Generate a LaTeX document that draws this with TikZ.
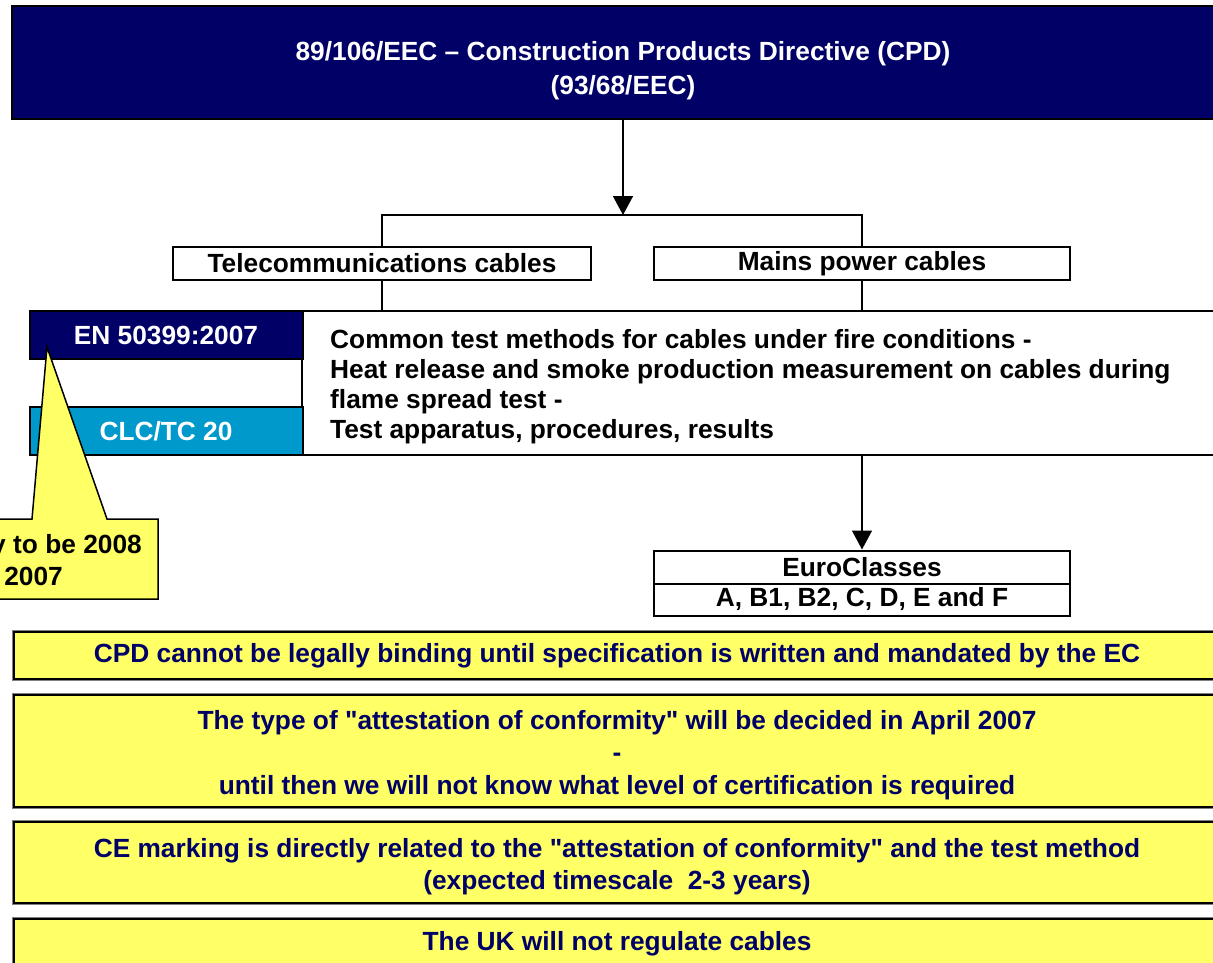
\documentclass[tikz,border=0pt]{standalone}
\usepackage{fontspec}
\setmainfont{Liberation Sans}[Ligatures=TeXOff]
\usetikzlibrary{arrows.meta}
\definecolor{navy}{RGB}{0,0,102}
\definecolor{cpdcyan}{RGB}{0,153,204}
\definecolor{noteyellow}{RGB}{255,255,102}
\begin{document}
\begin{tikzpicture}[x=1pt,y=-1pt,
  every node/.style={font=\fontsize{26.3}{32}\selectfont\bfseries, inner sep=0pt},
  navybox/.style={draw=black, line width=2pt, fill=navy, text=white},
  whitebox/.style={draw=black, line width=2pt, fill=white},
  cyanbox/.style={draw=black, line width=2pt, fill=cpdcyan, text=white},
  notebox/.style={preaction={draw=black!50, line width=4pt}, draw=black, line width=2pt, fill=noteyellow, text=navy},
  notetext/.style={text=navy, align=center},
  conn/.style={line width=1.5pt, draw=black},
  arrowconn/.style={conn, -{Triangle[width=20pt,length=19pt]}},
  callout/.style={draw=black, line width=1.5pt, fill=noteyellow}
]
\useasboundingbox (0,0) rectangle (1213,963);

% top directive box
\node[navybox, minimum width=1222pt, minimum height=113pt] (top) at (623,62.5) {};
\node[text=white, align=center, font=\fontsize{26.3}{33.5}\selectfont\bfseries] (toptext) at (623,70.8)
  {89/106/EEC – Construction Products Directive (CPD)\\(93/68/EEC)};

% cable categories
\node[whitebox, minimum width=418pt, minimum height=33pt] (tele) at (382,263.5) {Telecommunications cables};
\node[whitebox, minimum width=416pt, minimum height=33pt] (mains) at (862,263.5) {Mains power cables};
\coordinate (bus) at (623,215);
\draw[arrowconn] (top.south) -- (bus);
\draw[conn] (tele.north) |- (bus) -| (mains.north);

% standard box
\node[whitebox, minimum width=938pt, minimum height=144pt] (big) at (771,383) {};
\node[align=left, anchor=west, font=\fontsize{26.3}{30}\selectfont\bfseries] (bigtext) at (330,386.6)
  {Common test methods for cables under fire conditions -\\
   Heat release and smoke production measurement on cables during\\
   flame spread test -\\
   Test apparatus, procedures, results};
\draw[conn] (tele.south) -- (tele.south |- big.north);
\draw[conn] (mains.south) -- (mains.south |- big.north);

\node[navybox, minimum width=273pt, minimum height=48pt] (en) at (166,335) {EN 50399:2007};
\node[cyanbox, minimum width=273pt, minimum height=48pt] (clc) at (166,431) {CLC/TC 20};

% euroclasses
\node[whitebox, minimum width=416pt, minimum height=33pt] (euro1) at (862,567) {EuroClasses};
\node[whitebox, minimum width=416pt, minimum height=32pt] (euro2) at (862,599.5) {A, B1, B2, C, D, E and F};
\draw[arrowconn] (euro1.north |- big.south) -- (euro1.north);

% callout
\path[callout] (-240,519) -- (32,519) -- (47,347) -- (107,519) -- (158,519) -- (158,599) -- (-240,599) -- cycle;
\node[anchor=east] (note1) at (142,546.5) {Likely to be 2008};
\node[anchor=east] (note2) at (63,576) {not 2007};

% yellow notes
\node[notebox, minimum width=1206pt, minimum height=47pt] (y1) at (617,655.5)
  {CPD cannot be legally binding until specification is written and mandated by the EC};
\node[notebox, minimum width=1206pt, minimum height=112pt] (y2) at (617,751) {};
\node[notetext, font=\fontsize{26.3}{32.5}\selectfont\bfseries] (y2text) at (617,755)
  {The type of "attestation of conformity" will be decided in April 2007\\-\\until then we will not know what level of certification is required};
\node[notebox, minimum width=1206pt, minimum height=81pt] (y3) at (617,862.5) {};
\node[notetext, font=\fontsize{26.3}{32}\selectfont\bfseries] (y3text) at (617,866.5)
  {CE marking is directly related to the "attestation of conformity" and the test method\\(expected timescale\ \ 2-3 years)};
\node[notebox, minimum width=1206pt, minimum height=50pt] (y4) at (617,944) {The UK will not regulate cables};
\end{tikzpicture}
\end{document}
